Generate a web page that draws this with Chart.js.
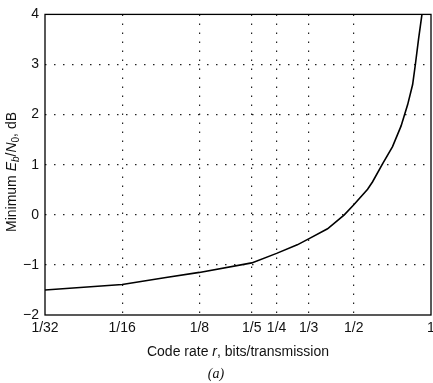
<!DOCTYPE html>
<html>
<head>
<meta charset="utf-8">
<script src="https://cdn.jsdelivr.net/npm/chart.js@4.4.1/dist/chart.umd.min.js"></script>
<style>
  html, body { margin: 0; padding: 0; background: #fff; }
  #wrap { width: 433px; height: 383px; }
</style>
</head>
<body>
<div id="wrap"><canvas id="rate-chart" width="433" height="383"></canvas></div>
<script>
// --- Data ---
const rates = [1/32, 1/16, 0.0926, 1/8, 1/5, 1/4, 0.301, 1/3, 0.395, 0.459, 1/2, 0.566, 0.592, 0.648, 0.708, 0.764, 0.811, 0.848, 0.869, 0.895, 0.922];
const minEbNo = [-1.50, -1.39, -1.25, -1.15, -0.96, -0.77, -0.60, -0.48, -0.28, 0.00, 0.20, 0.51, 0.66, 1.02, 1.36, 1.77, 2.20, 2.60, 3.00, 3.52, 4.00];

const xTicks = [1/32, 1/16, 1/8, 1/5, 1/4, 1/3, 1/2, 1];
const xTickLabels = ['1/32', '1/16', '1/8', '1/5', '1/4', '1/3', '1/2', '1'];
const yTicks = [-2, -1, 0, 1, 2, 3, 4];

const FONT = '"Liberation Sans", Arial, sans-serif';

// draws a run of differently styled pieces centred on (0,0)
function drawPieces(ctx, pieces) {
  let total = 0;
  pieces.forEach(p => { ctx.font = p.font; p.w = ctx.measureText(p.text).width; total += p.w; });
  let x = -total / 2;
  pieces.forEach(p => {
    ctx.font = p.font;
    ctx.fillText(p.text, x, p.dy || 0);
    x += p.w;
  });
}

const labelsPlugin = {
  id: 'labels',
  afterDraw(chart) {
    const ctx = chart.ctx;
    const a = chart.chartArea;
    ctx.save();
    // frame
    ctx.strokeStyle = '#000';
    ctx.lineWidth = 1.3;
    ctx.strokeRect(a.left, a.top, a.right - a.left, a.bottom - a.top);

    ctx.fillStyle = '#111';
    ctx.textBaseline = 'middle';
    ctx.textAlign = 'left';

    // x axis title
    ctx.save();
    ctx.translate((a.left + a.right) / 2, 352);
    drawPieces(ctx, [
      { text: 'Code rate ', font: '14px ' + FONT },
      { text: 'r', font: 'italic 14px ' + FONT },
      { text: ', bits/transmission', font: '14px ' + FONT }
    ]);
    ctx.restore();

    // y axis title
    ctx.save();
    ctx.translate(12, 172);
    ctx.rotate(-Math.PI / 2);
    drawPieces(ctx, [
      { text: 'Minimum ', font: '14px ' + FONT },
      { text: 'E', font: 'italic 14px ' + FONT },
      { text: 'b', font: 'italic 10px ' + FONT, dy: 4 },
      { text: '/', font: '14px ' + FONT },
      { text: 'N', font: 'italic 14px ' + FONT },
      { text: '0', font: '10px ' + FONT, dy: 4 },
      { text: ', dB', font: '14px ' + FONT }
    ]);
    ctx.restore();

    // panel caption
    ctx.save();
    ctx.translate(216, 374);
    drawPieces(ctx, [{ text: '(a)', font: 'italic 14px "Liberation Serif", serif' }]);
    ctx.restore();

    ctx.restore();
  }
};

document.addEventListener('DOMContentLoaded', () => {
  const ctx = document.getElementById('rate-chart').getContext('2d');
  new Chart(ctx, {
    type: 'line',
    data: {
      datasets: [{
        data: rates.map((r, i) => ({ x: r, y: minEbNo[i] })),
        borderColor: '#000',
        borderWidth: 1.6,
        pointRadius: 0,
        tension: 0,
        fill: false
      }]
    },
    options: {
      responsive: false,
      animation: false,
      devicePixelRatio: 1,
      layout: { padding: { top: 9, right: 2, left: 0, bottom: 0 } },
      plugins: { legend: { display: false }, tooltip: { enabled: false } },
      scales: {
        x: {
          type: 'logarithmic',
          min: 1/32,
          max: 1,
          afterBuildTicks: scale => { scale.ticks = xTicks.map(v => ({ value: v })); },
          afterFit: scale => { scale.height = 68; scale.paddingLeft = 0; scale.paddingRight = 0; },
          ticks: {
            autoSkip: false,
            maxRotation: 0,
            padding: 5,
            color: '#111',
            font: { family: FONT, size: 14 },
            callback: (v, i) => xTickLabels[i]
          },
          grid: {
            drawTicks: false,
            color: c => (c.tick && (c.tick.value === 1/32 || c.tick.value === 1)) ? 'rgba(0,0,0,0)' : '#222',
            lineWidth: 1.2
          },
          border: { display: false, dash: [1.5, 7.5] }
        },
        y: {
          type: 'linear',
          min: -2,
          max: 4,
          afterBuildTicks: scale => { scale.ticks = yTicks.map(v => ({ value: v })); },
          afterFit: scale => { scale.width = 45; },
          ticks: {
            padding: 6,
            color: '#111',
            font: { family: FONT, size: 14 },
            callback: v => (v < 0 ? '\u2212' + Math.abs(v) : String(v))
          },
          grid: {
            drawTicks: false,
            color: c => (c.tick && (c.tick.value === -2 || c.tick.value === 4)) ? 'rgba(0,0,0,0)' : '#222',
            lineWidth: 1.2
          },
          border: { display: false, dash: [1.5, 7.5] }
        }
      }
    },
    plugins: [labelsPlugin]
  });
});
</script>
</body>
</html>
